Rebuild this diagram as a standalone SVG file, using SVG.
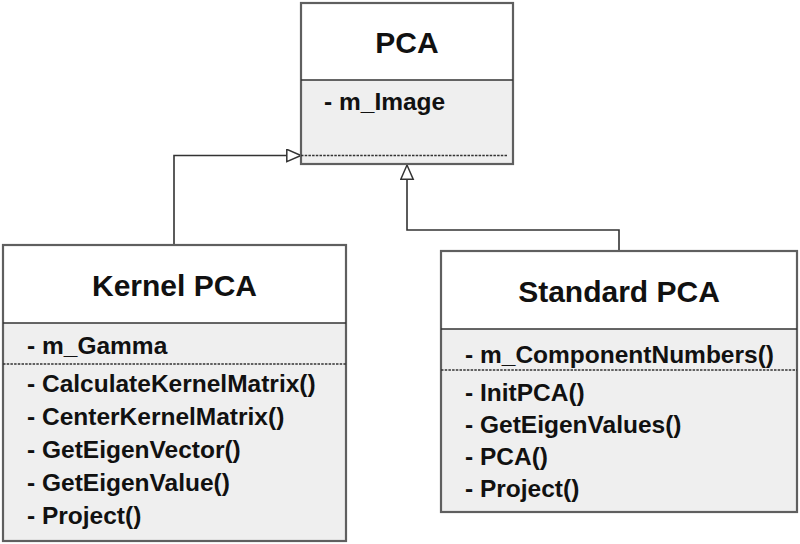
<svg xmlns="http://www.w3.org/2000/svg" width="800" height="544" viewBox="0 0 800 544">
<defs>
<style>
.box{stroke:#5f5f5f;stroke-width:2.2}
.head{fill:#ffffff}
.body{fill:#efefef}
.div{stroke:#333;stroke-width:1.5}
.dot{stroke:#333;stroke-width:1.6;stroke-dasharray:2.5 1.2}
.title{font-family:"Liberation Sans",Arial,sans-serif;font-weight:bold;font-size:30px;fill:#111;text-anchor:middle}
.mem{font-family:"Liberation Sans",Arial,sans-serif;font-weight:bold;font-size:24.5px;fill:#111}
.conn{fill:none;stroke:#333;stroke-width:1.6}
</style>
<marker id="tri" markerUnits="userSpaceOnUse" markerWidth="18" markerHeight="16" refX="15" refY="7" orient="auto">
<path d="M0.8,0.8 L15,7 L0.8,13.2 Z" fill="#ffffff" stroke="#333" stroke-width="1.5"/>
</marker>
</defs>
<rect width="800" height="544" fill="#ffffff"/>
<g id="connectors">
<path class="conn" d="M174,245 V155.5 H301" marker-end="url(#tri)"/>
<path class="conn" d="M619,251 V230 H407 V165" marker-end="url(#tri)"/>
</g>
<g id="pca">
<rect class="head" x="301" y="3" width="212" height="77"/>
<rect class="body" x="301" y="80" width="212" height="84"/>
<rect class="box" x="301" y="3" width="212" height="161" fill="none"/>
<line class="div" x1="301" y1="80" x2="513" y2="80"/>
<line class="dot" x1="301" y1="155.5" x2="508" y2="155.5"/>
<text class="title" x="407" y="53">PCA</text>
<text class="mem" x="324" y="110">- m_Image</text>
</g>
<g id="kernel-pca">
<rect class="head" x="3" y="245" width="343" height="78"/>
<rect class="body" x="3" y="323" width="343" height="218"/>
<rect class="box" x="3" y="245" width="343" height="296" fill="none"/>
<line class="div" x1="3" y1="323" x2="346" y2="323"/>
<line class="dot" x1="3" y1="364" x2="346" y2="364"/>
<text class="title" x="174.5" y="296">Kernel PCA</text>
<text class="mem" x="27" y="354">- m_Gamma</text>
<text class="mem" x="27" y="392">- CalculateKernelMatrix()</text>
<text class="mem" x="27" y="425">- CenterKernelMatrix()</text>
<text class="mem" x="27" y="458">- GetEigenVector()</text>
<text class="mem" x="27" y="491">- GetEigenValue()</text>
<text class="mem" x="27" y="524">- Project()</text>
</g>
<g id="standard-pca">
<rect class="head" x="441" y="251" width="356" height="78"/>
<rect class="body" x="441" y="329" width="356" height="183"/>
<rect class="box" x="441" y="251" width="356" height="261" fill="none"/>
<line class="div" x1="441" y1="329" x2="797" y2="329"/>
<line class="dot" x1="441" y1="370" x2="797" y2="370"/>
<text class="title" x="619" y="302">Standard PCA</text>
<text class="mem" x="465" y="363">- m_ComponentNumbers()</text>
<text class="mem" x="465" y="401">- InitPCA()</text>
<text class="mem" x="465" y="433">- GetEigenValues()</text>
<text class="mem" x="465" y="465">- PCA()</text>
<text class="mem" x="465" y="497">- Project()</text>
</g>
</svg>
